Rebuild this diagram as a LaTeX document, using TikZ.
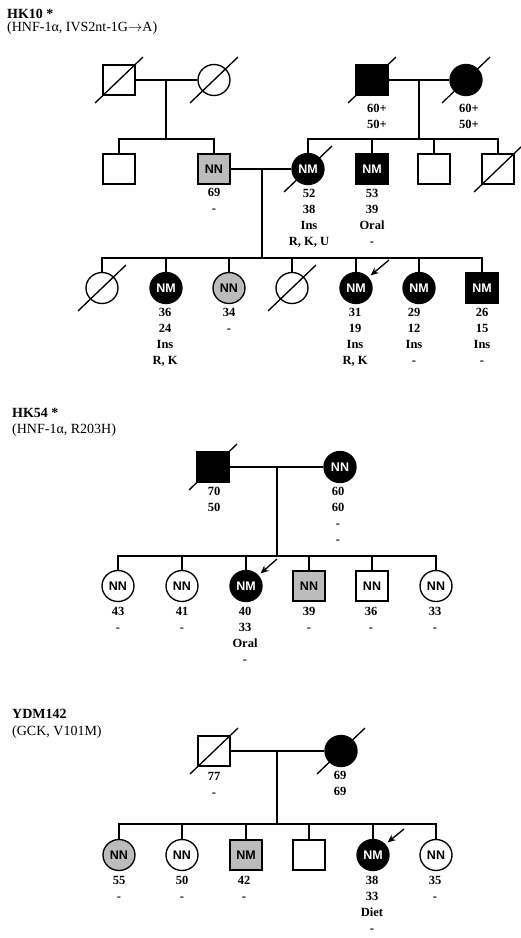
\documentclass[tikz,border=0pt]{standalone}
\usepackage{fontspec}
\setmainfont{Liberation Serif}
\newfontfamily\symfont{Liberation Sans}
\usetikzlibrary{shapes.geometric,arrows.meta,backgrounds}
\definecolor{shade}{RGB}{188,188,188}
\tikzset{
  sym/.style={draw, line width=1.35pt, inner sep=0pt, font=\symfont\bfseries\fontsize{12.5}{12.5}\selectfont},
  sq/.style={sym, rectangle, minimum width=32pt, minimum height=30pt},
  ci/.style={sym, ellipse, minimum width=32pt, minimum height=31pt},
  aff/.style={fill=black, text=white},
  car/.style={fill=shade},
  conn/.style={line width=1.35pt},
  slash/.style={line width=1.35pt},
  lab/.style={font=\bfseries\fontsize{12.5}{16}\selectfont, anchor=base, inner sep=0pt},
  ttl/.style={font=\bfseries\fontsize{14}{16}\selectfont, anchor=base west, inner sep=0pt},
  subttl/.style={font=\fontsize{14}{16}\selectfont, anchor=base west, inner sep=0pt},
  prob/.style={line width=1.35pt, -{Stealth[length=8pt,width=7pt]}}
}
\newcommand\plab[3]{\foreach \t [count=\i] in {#3} \node[lab] at (#1,#2+16*\i-16) {\t};}
\begin{document}
\begin{tikzpicture}[x=1pt,y=-1pt]
\useasboundingbox (0,0) rectangle (520,938);

% ---------- HK10 ----------
\node[ttl] (t1) at (7,18) {HK10 *};
\node[subttl] (t1b) at (7,31.5) {(HNF-1α, IVS2nt-1G$\rightarrow$A)};

\node[sq] (a1) at (119,80) {};
\node[ci] (a2) at (214,80) {};
\node[sq,aff] (a3) at (372,80) {};
\node[ci,aff] (a4) at (466,80) {};
\node[sq] (b1) at (119,169) {};
\node[sq,car] (b2) at (214,169) {NN};
\node[ci,aff] (b3) at (308,169) {NM};
\node[sq,aff] (b4) at (372,169) {NM};
\node[sq] (b5) at (434,169) {};
\node[sq] (b6) at (498,169) {};
\node[ci] (c1) at (102,288) {};
\node[ci,aff] (c2) at (166,288) {NM};
\node[ci,car] (c3) at (229,288) {NN};
\node[ci] (c4) at (292,288) {};
\node[ci,aff] (c5) at (356,288) {NM};
\node[ci,aff] (c6) at (419,288) {NM};
\node[sq,aff] (c7) at (482,288) {NM};

\coordinate (m1) at (166,80);  \coordinate (s1) at (166,139);
\coordinate (m2) at (419,80);  \coordinate (s2) at (419,139);
\coordinate (m3) at (262,169); \coordinate (s3) at (262,258);
\draw[conn] (a1) -- (a2);
\draw[conn] (m1) -- (s1);
\draw[conn] (b1.north) |- (s1) -| (b2.north);
\draw[conn] (a3) -- (a4);
\draw[conn] (m2) -- (s2);
\draw[conn] (b3.north) |- (s2) -| (b6.north);
\draw[conn] (b4.north) -- (b4.north |- s2);
\draw[conn] (b5.north) -- (b5.north |- s2);
\draw[conn] (b2) -- (b3);
\draw[conn] (m3) -- (s3);
\draw[conn] (c1.north) |- (s3) -| (c7.north);
\foreach \n in {c2,c3,c4,c5,c6} \draw[conn] (\n.north) -- (\n.north |- s3);
\coordinate (p1) at (389,260);
\draw[prob] (p1) -- ([shift={(3,-1)}]c5.45);

\plab{377}{112}{60+,50+}
\plab{469}{112}{60+,50+}
\plab{214}{196}{69,-}
\plab{309}{197}{52,38,Ins,{R, K, U}}
\plab{372}{197}{53,39,Oral,-}
\plab{165}{316}{36,24,Ins,{R, K}}
\plab{229}{316}{34,-}
\plab{355}{316}{31,19,Ins,{R, K}}
\plab{414}{316}{29,12,Ins,-}
\plab{482}{316}{26,15,Ins,-}

% ---------- HK54 ----------
\node[ttl] (t2) at (12,417) {HK54 *};
\node[subttl] (t2b) at (12,433) {(HNF-1α, R203H)};

\node[sq,aff] (d1) at (213,467) {};
\node[ci,aff] (d2) at (340,467) {NN};
\node[ci] (f1) at (118,586) {NN};
\node[ci] (f2) at (182,586) {NN};
\node[ci,aff] (f3) at (246,586) {NM};
\node[sq,car] (f4) at (309,586) {NN};
\node[sq] (f5) at (372,586) {NN};
\node[ci] (f6) at (436,586) {NN};

\coordinate (m4) at (277,467); \coordinate (s4) at (277,556);
\draw[conn] (d1) -- (d2);
\draw[conn] (m4) -- (s4);
\draw[conn] (f1.north) |- (s4) -| (f6.north);
\foreach \n in {f2,f3,f4,f5} \draw[conn] (\n.north) -- (\n.north |- s4);
\coordinate (p2) at (277,559);
\draw[prob] (p2) -- ([shift={(3,-1)}]f3.45);

\plab{214}{495}{70,50}
\plab{338}{495}{60,60,-,-}
\plab{118}{615}{43,-}
\plab{182}{615}{41,-}
\plab{245}{615}{40,33,Oral,-}
\plab{309}{615}{39,-}
\plab{371}{615}{36,-}
\plab{435}{615}{33,-}

% ---------- YDM142 ----------
\node[ttl] (t3) at (12,718) {YDM142};
\node[subttl] (t3b) at (12,735) {(GCK, V101M)};

\node[sq] (e1) at (214,751) {};
\node[ci,aff] (e2) at (341,751) {};
\node[ci,car] (g1) at (119,855) {NN};
\node[ci] (g2) at (182,855) {NN};
\node[sq,car] (g3) at (246,855) {NM};
\node[sq] (g4) at (309,855) {};
\node[ci,aff] (g5) at (373,855) {NM};
\node[ci] (g6) at (436,855) {NN};

\coordinate (m5) at (277,751); \coordinate (s5) at (277,824);
\draw[conn] (e1) -- (e2);
\draw[conn] (m5) -- (s5);
\draw[conn] (g1.north) |- (s5) -| (g6.north);
\foreach \n in {g2,g3,g4,g5} \draw[conn] (\n.north) -- (\n.north |- s5);
\coordinate (p3) at (404,829);
\draw[prob] (p3) -- ([shift={(3,-1)}]g5.45);

\plab{214}{780}{77,-}
\plab{340}{779}{69,69}
\plab{119}{884}{55,-}
\plab{182}{884}{50,-}
\plab{244}{884}{42,-}
\plab{372}{884}{38,33,Diet,-}
\plab{435}{884}{35,-}

% ---------- deceased slashes ----------
\begin{pgfonlayer}{background}
\foreach \n in {a1,a2,a3,a4,b3,b6,c1,c4,d1,e1,e2}
  \draw[slash] (\n.center) ++(-24,23) -- ++(48,-46);
\end{pgfonlayer}
\end{tikzpicture}
\end{document}
